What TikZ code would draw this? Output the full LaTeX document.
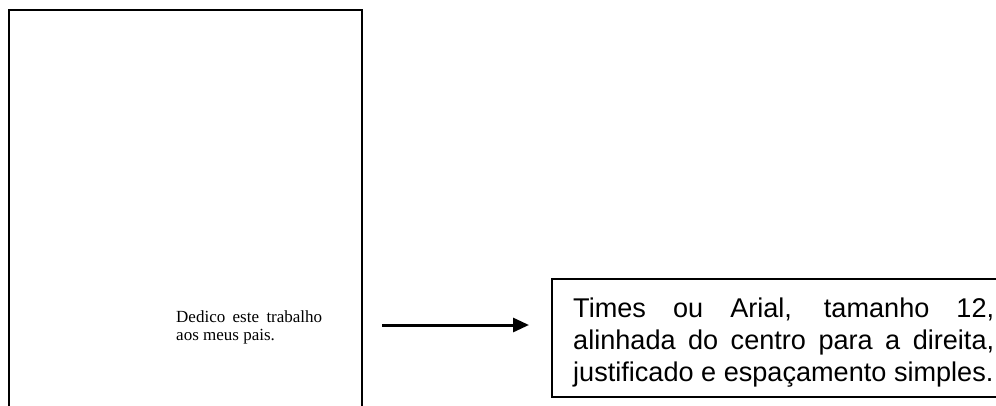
\documentclass[tikz,border=0pt]{standalone}
\usepackage{fontspec}
\setmainfont{Liberation Serif}
\newfontfamily\arialfont{Liberation Sans}
\usetikzlibrary{arrows.meta, positioning}
\hyphenpenalty=10000
\tolerance=9999
\hbadness=10000

\begin{document}
\begin{tikzpicture}[x=1pt, y=-1pt,
    frame/.style={draw, line width=2pt},
    dedication/.style={inner sep=0pt, anchor=base west, text width=146pt, align=justify,
        font=\fontsize{17}{17.8}\selectfont},
    remark/.style={inner sep=0pt, anchor=base west, text width=421pt, align=justify,
        font=\arialfont\fontsize{27.1}{32}\selectfont}]
    \useasboundingbox (0,0) rectangle (996,405);

    % Dedication page
    \draw[frame] (9,10) rectangle (362,420);
    \node[dedication] (ded) at (176,322.5) {Dedico este trabalho aos meus pais.};

    % Note on the right
    \draw[frame] (552,279) rectangle (1010,396.5);
    \node[remark] (rule) at (573,317) {Times ou Arial, tamanho 12, alinhada do centro para a direita, justificado e espaçamento simples.};

    % Arrow between them
    \coordinate (tail) at (382,325);
    \coordinate (head) at (529,325);
    \draw[-{Triangle[length=16pt, width=14pt]}, line width=3pt] (tail) -- (head);
\end{tikzpicture}
\end{document}
